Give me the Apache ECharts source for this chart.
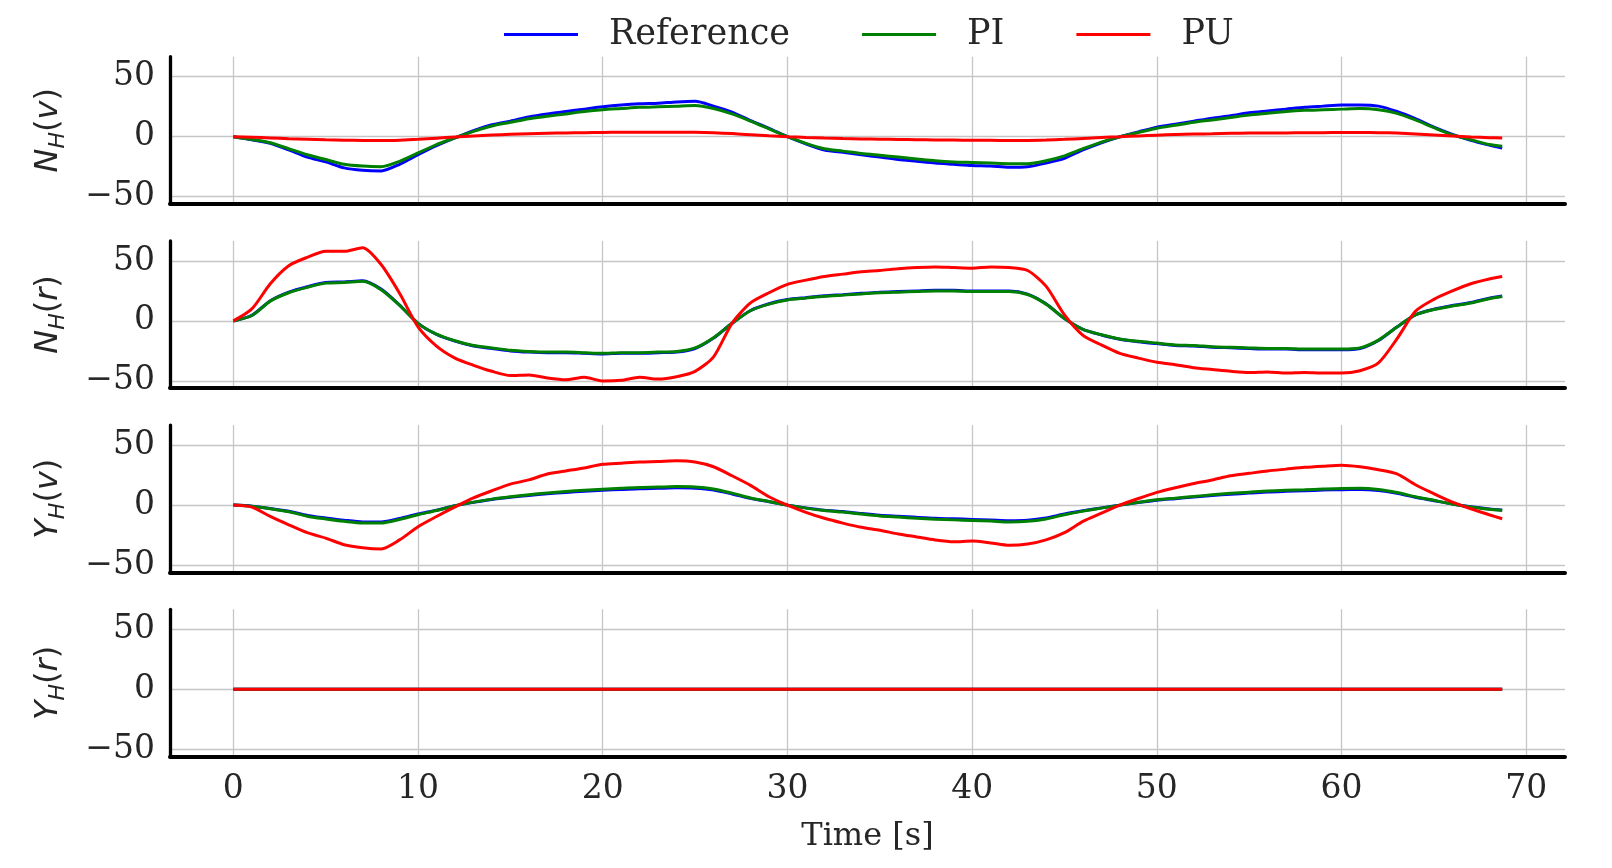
<!DOCTYPE html>
<html>
<head>
<meta charset="utf-8">
<script src="https://cdn.jsdelivr.net/npm/echarts@6.0.0/dist/echarts.min.js"></script>
<style>
html, body { margin: 0; padding: 0; background: #fff; }
#chart { width: 1612px; height: 868px; }
</style>
</head>
<body>
<div id="chart"></div>
<script>
// time axis [s]
var time = [0,1,2,3,4,5,6,7,8,9,10,11,12,13,14,15,16,17,18,19,
  20,21,22,23,24,25,26,27,28,29,30,31,32,33,34,35,36,37,38,39,
  40,41,42,43,44,45,46,47,48,49,50,51,52,53,54,55,56,57,58,59,
  60,61,62,63,64,65,66,67,68,68.7];

// N_H(v)
var nhvRef = [0,-2.5,-5.5,-11,-17,-21,-26,-28,-28.5,-23,
  -15,-7.5,-1,5,10,13,16.5,19,21,23,
  25,26.5,27.5,28,29,29.5,25.5,20.5,13.5,7,
  0,-6,-11,-13,-15,-17,-19,-20.5,-22,-23,
  -24,-24.5,-25.5,-25,-22,-18,-11,-5,0,4,
  8,10.5,13,15.5,17.5,20,21.5,23,24.5,25.5,
  26.5,26.5,25.5,21,15,8,2,-3,-7,-9.5];
var nhvPI = [0,-2.3,-5,-10,-15,-19,-23,-24.5,-25,-20.5,
  -13.5,-6.5,-1,4.5,9,12,15,17,19,21,
  22.5,23.5,24.5,25,25.5,26,23.5,19,13,6.5,
  0,-5.5,-10,-12,-14,-15.5,-17,-18.5,-20,-21,
  -21.5,-22,-22.5,-22.5,-20,-16,-10,-4.5,0,3.5,
  7,9.5,12,14,16,18,19.5,21,22,22.5,
  23,23.5,22.5,19.5,14,7.5,1.5,-2.5,-6.5,-8];
var nhvPU = [0,-0.5,-1,-1.6,-2.1,-2.6,-2.9,-3.1,-3.2,-2.9,
  -2.2,-1.2,-0.2,0.7,1.4,2,2.5,2.9,3.2,3.4,
  3.6,3.7,3.8,3.8,3.8,3.7,3.3,2.6,1.7,0.8,
  0,-0.6,-1.1,-1.5,-1.8,-2.1,-2.3,-2.5,-2.7,-2.8,
  -2.9,-3,-3.1,-3.1,-2.8,-2.2,-1.4,-0.6,0,0.7,
  1.3,1.8,2.2,2.5,2.8,3,3.1,3.2,3.3,3.4,
  3.5,3.5,3.4,3,2.3,1.4,0.5,-0.2,-0.8,-1.1];

// N_H(r)
var nhrRef = [0,4.6,16.8,24,28.5,32,32.5,33.5,26.5,13.2,
  -2,-11.2,-16.8,-20.9,-23,-25,-26,-26.5,-26.5,-27,
  -27.5,-27,-27,-26.5,-26,-23,-14.3,-2,8.7,14.3,
  17.8,19.4,20.9,21.9,23,24,24.5,25,25.5,25.5,
  25,25,25,22.4,14.3,2,-7.1,-11.7,-15.3,-17.3,
  -18.9,-20.4,-20.9,-21.9,-22.4,-23,-23.5,-23.5,-24,-24,
  -24,-23,-16.3,-5.1,5.1,9.7,12.8,15.3,18.9,20.7];
var nhrPI = [0,4.5,16.5,23.5,28,31.5,32,33,26,13,
  -2,-11,-16.5,-20.5,-22.5,-24.5,-25.5,-26,-26,-26.5,
  -27,-26.5,-26.5,-26,-25.5,-22.5,-14,-2,8.5,14,
  17.5,19,20.5,21.5,22.5,23.5,24,24.5,25,25,
  24.5,24.5,24.5,22,14,2,-7,-11.5,-15,-17,
  -18.5,-20,-20.5,-21.5,-22,-22.5,-23,-23,-23.5,-23.5,
  -23.5,-22.5,-16,-5,5,9.5,12.5,15,18.5,20.3];
var nhrPU = [0,10,31,46,53,58,58,61,47,23,
  -5,-21,-31,-37,-42,-45.5,-45,-47.5,-49,-47,
  -50,-49.5,-47,-48.5,-46.5,-42,-30,-2,15,23.5,
  30.5,34,37,39,41,42,43.5,44.5,45,44.5,
  44,45,44.5,42,29,5,-12,-20,-27,-31,
  -34.5,-36.5,-39,-40.5,-42,-43,-42.5,-43.5,-43,-43.5,
  -43.5,-41.5,-35,-15,8,18,25,31,35,37];

// Y_H(v)
var yhvRef = [0,-0.9,-2.8,-5.1,-8.6,-10.7,-12.6,-14,-14,-11.2,
  -7.4,-4.2,-0.5,2.3,4.7,6.5,8.1,9.5,10.6,11.5,
  12.4,13,13.7,14,14.4,14.1,12.6,9.3,5.6,2.8,
  0,-2.3,-4.2,-5.4,-7,-8.4,-9.3,-10.2,-11,-11.4,
  -11.9,-12.4,-13,-12.6,-10.7,-7.4,-4.7,-2.3,0,2.1,
  4.1,5.4,6.7,8,9.1,10,11,11.5,11.9,12.5,
  12.9,13,12.1,9.8,6.5,3.7,0.9,-1.4,-3.2,-4.1];
var yhvPI = [0,-1,-3,-5.5,-9.2,-11.5,-13.5,-15,-15,-12,
  -8,-4.5,-0.5,2.5,5,7,8.7,10.2,11.4,12.4,
  13.3,14,14.7,15,15.5,15.2,13.5,10,6,3,
  0,-2.5,-4.5,-5.8,-7.5,-9,-10,-11,-11.8,-12.3,
  -12.8,-13.3,-14,-13.5,-11.5,-8,-5,-2.5,0,2.3,
  4.4,5.8,7.2,8.6,9.8,10.8,11.8,12.4,12.8,13.4,
  13.9,14,13,10.5,7,4,1,-1.5,-3.4,-4.4];
var yhvPU = [0,-1.7,-9.4,-16.4,-23,-27.5,-33,-35.5,-36.5,-29,
  -18,-9.5,-1.5,6,12,17.5,21,26,28.5,31,
  34,35,36,36.4,37,36,32,24.5,16.5,7,
  0,-6,-11,-15,-18.5,-21,-24,-26.5,-29,-30.5,
  -30,-31.5,-33.5,-32.5,-29,-23,-13.6,-6.7,0,5.5,
  10.6,14.5,18,21,24.5,26.5,28.5,30,31.5,32.5,
  33.3,32,29.5,26,17,9.5,2.5,-3,-8,-11.4];

// Y_H(r)
var yhrRef = [0,0,0,0,0,0,0,0,0,0, 0,0,0,0,0,0,0,0,0,0,
  0,0,0,0,0,0,0,0,0,0, 0,0,0,0,0,0,0,0,0,0,
  0,0,0,0,0,0,0,0,0,0, 0,0,0,0,0,0,0,0,0,0,
  0,0,0,0,0,0,0,0,0,0];
var yhrPI = [0,0,0,0,0,0,0,0,0,0, 0,0,0,0,0,0,0,0,0,0,
  0,0,0,0,0,0,0,0,0,0, 0,0,0,0,0,0,0,0,0,0,
  0,0,0,0,0,0,0,0,0,0, 0,0,0,0,0,0,0,0,0,0,
  0,0,0,0,0,0,0,0,0,0];
var yhrPU = [0,0,0,0,0,0,0,0,0,0, 0,0,0,0,0,0,0,0,0,0,
  0,0,0,0,0,0,0,0,0,0, 0,0,0,0,0,0,0,0,0,0,
  0,0,0,0,0,0,0,0,0,0, 0,0,0,0,0,0,0,0,0,0,
  0,0,0,0,0,0,0,0,0,0];

var seriesNames = ['Reference', 'PI', 'PU'];
var seriesColors = ['#0000ff', '#008000', '#ff0000'];
var panels = [
  {sym: 'N', arg: 'v', data: [nhvRef, nhvPI, nhvPU]},
  {sym: 'N', arg: 'r', data: [nhrRef, nhrPI, nhrPU]},
  {sym: 'Y', arg: 'v', data: [yhvRef, yhvPI, yhvPU]},
  {sym: 'Y', arg: 'r', data: [yhrRef, yhrPI, yhrPU]}
];
var xTicks = [0, 10, 20, 30, 40, 50, 60, 70];
var yTicks = [-50, 0, 50];

var textColor = '#262626';
var gridColor = '#c6c6c6';
var panelTops = [56.7, 240.9, 425.1, 609.3];

function pairs(xs, ys) {
  var out = [];
  for (var i = 0; i < xs.length; i++) out.push([xs[i], ys[i]]);
  return out;
}

var grids = [], xAxes = [], yAxes = [], series = [];
for (var p = 0; p < panels.length; p++) {
  var last = p == panels.length - 1;
  grids.push({left: 170, width: 1395, top: panelTops[p], height: 147.2});
  xAxes.push({
    type: 'value', gridIndex: p, min: -3.43, max: 72.1,
    axisLine: {show: true, onZero: false, lineStyle: {color: '#000', width: 4}},
    axisTick: {show: false, customValues: xTicks},
    splitLine: {show: true, lineStyle: {color: gridColor, width: 1.3}},
    axisLabel: {show: last, customValues: xTicks, margin: 16,
      fontFamily: 'DejaVu Serif', fontSize: 33, color: textColor},
    name: last ? 'Time [s]' : '', nameLocation: 'middle', nameGap: 64,
    nameTextStyle: {fontFamily: 'DejaVu Serif', fontSize: 32, color: textColor}
  });
  yAxes.push({
    type: 'value', gridIndex: p, min: -56, max: 66.7,
    axisLine: {show: true, onZero: false, lineStyle: {color: '#000', width: 3.3}},
    axisTick: {show: false, customValues: yTicks},
    splitLine: {show: true, lineStyle: {color: gridColor, width: 1.3}},
    axisLabel: {customValues: yTicks, margin: 15,
      fontFamily: 'DejaVu Serif', fontSize: 33, color: textColor,
      formatter: function (v) { return v < 0 ? '\u2212' + Math.abs(v) : '' + v; }},
    name: '{i|' + panels[p].sym + '}{s|H}{p|(}{i|' + panels[p].arg + '}{p|)}',
    nameLocation: 'middle', nameGap: 101,
    nameTextStyle: {
      color: textColor,
      rich: {
        i: {fontFamily: 'DejaVu Sans', fontStyle: 'italic', fontSize: 32, lineHeight: 40, color: textColor},
        s: {fontFamily: 'DejaVu Sans', fontStyle: 'italic', fontSize: 22, lineHeight: 22, verticalAlign: 'bottom', color: textColor},
        p: {fontFamily: 'DejaVu Sans', fontSize: 32, lineHeight: 40, color: textColor}
      }
    }
  });
  for (var s = 0; s < 3; s++) {
    series.push({
      name: seriesNames[s], type: 'line', xAxisIndex: p, yAxisIndex: p,
      data: pairs(time, panels[p].data[s]),
      showSymbol: false, symbol: 'none', smooth: 0.25,
      lineStyle: {color: seriesColors[s], width: 3},
      itemStyle: {color: seriesColors[s]},
      z: 2 + s
    });
  }
}

var myChart = echarts.init(document.getElementById('chart'), null, {renderer: 'canvas'});
var option = {
  animation: false,
  backgroundColor: '#ffffff',
  legend: {
    data: seriesNames, left: 504, top: 17, padding: 0,
    icon: 'rect', itemWidth: 74, itemHeight: 3, itemGap: 72,
    selectedMode: false,
    textStyle: {fontFamily: 'DejaVu Serif', fontSize: 35, color: textColor, padding: [0, 0, 0, 26]}
  },
  grid: grids,
  xAxis: xAxes,
  yAxis: yAxes,
  series: series
};
myChart.setOption(option);
</script>
</body>
</html>
